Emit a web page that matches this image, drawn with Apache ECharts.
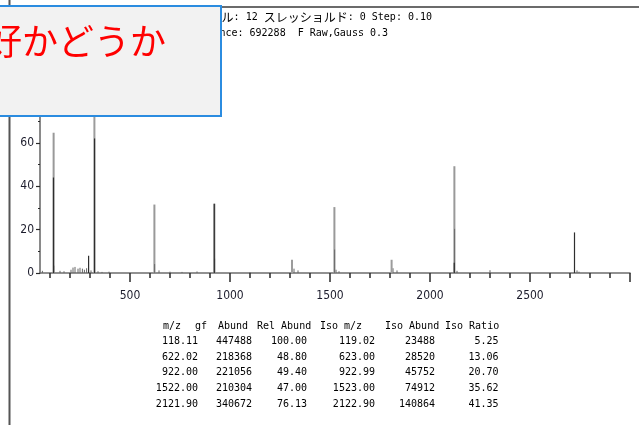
<!DOCTYPE html>
<html>
<head>
<meta charset="utf-8">
<script src="https://cdn.jsdelivr.net/npm/echarts@6/dist/echarts.min.js"></script>
<style>
  html, body { margin: 0; padding: 0; background: #ffffff; }
  #chart { width: 639px; height: 425px; }
</style>
</head>
<body>
<div id="chart"></div>
<script>
// ---- Spectrum data -------------------------------------------------------
// Base peak abundance (shown in the header); intensities are % of it.
const baseAbundance = 692288;

// Peak table
const tableMz       = [118.11, 622.02, 922.00, 1522.00, 2121.90];
const tableAbund    = [447488, 218368, 221056, 210304, 340672];
const tableRelAbund = [100.00, 48.80, 49.40, 47.00, 76.13];
const tableIsoMz    = [119.02, 623.00, 922.99, 1523.00, 2122.90];
const tableIsoAbund = [23488, 28520, 45752, 74912, 140864];
const tableIsoRatio = [5.25, 13.06, 20.70, 35.62, 41.35];

// Other profile peaks: [m/z, relative intensity %]
const profilePeaks = [[322, 100], [1310, 6.1], [1808, 6.1]];
// Centroid (darker) sticks: [m/z, relative intensity %]
const centroidPeaks = [[117.4, 44], [293, 8], [322.8, 62], [921.4, 31.9], [2121.2, 4.7], [2722.5, 18.7]];
// Low-level noise: [m/z, relative intensity %]
const noisePeaks = [
  [62, 1.0], [150, 1.0], [170, 0.8], [205, 1.5], [215, 2.5], [225, 2.8], [240, 2.0],
  [250, 2.4], [262, 2.0], [272, 1.5], [283, 2.2], [305, 1.2], [340, 0.8], [360, 0.5],
  [395, 0.6], [645, 1.2], [700, 0.6], [760, 0.5], [835, 0.7], [1100, 0.4], [1320, 2.0],
  [1340, 1.2], [1530, 1.5], [1545, 0.8], [1815, 2.2], [1835, 1.2], [2135, 1.0],
  [2300, 1.3], [2735, 1.2], [2745, 0.6]
];

// Axis ticks
const xMajorTicks = [500, 1000, 1500, 2000, 2500, 3000];
const xLabels     = [500, 1000, 1500, 2000, 2500];
const xMinorTicks = [];
for (let v = 100; v < 3000; v += 100) xMinorTicks.push(v);

// Header lines
const headerLine1 = [['j', 'ル'], ['a', ': 12 '], ['j', 'スレッショルド'], ['a', ': 0 Step: 0.10']];
const headerLine2 = 'Abundance: 692288  F Raw,Gauss 0.3';
const title = '好かどうか';

// ---- Derived series ---------------------------------------------------------
const pct = a => a / baseAbundance * 100;
const tablePeaks = tableMz.map((m, i) => [m, pct(tableAbund[i])]);
const isoPeaks = tableIsoMz.map((m, i) => [m, pct(tableIsoAbund[i])]);

function stick(color, width) {
  return function (params, api) {
    const x = api.value(0), y = api.value(1);
    const p0 = api.coord([x, 0]);
    const p1 = api.coord([x, y]);
    return {
      type: 'line',
      shape: { x1: p0[0], y1: p0[1], x2: p1[0], y2: p1[1] },
      style: { stroke: color, lineWidth: width }
    };
  };
}

const narrow = "'Liberation Sans Narrow', 'DejaVu Sans Condensed', 'Liberation Sans', sans-serif";
const mono = "'DejaVu Sans Mono', 'Liberation Mono', monospace";
const textColor = '#000000';

// ---- Table graphics --------------------------------------------------------
const tableGraphics = [];
const headerCols = [
  ['m/z', 163], ['gf', 195], ['Abund', 218], ['Rel Abund', 257],
  ['Iso m/z', 320], ['Iso Abund', 385], ['Iso Ratio', 445]
];
headerCols.forEach(([t, x]) => tableGraphics.push({
  type: 'text', x: x, y: 326,
  style: { text: t, font: '10px ' + mono, fill: textColor, textAlign: 'left', textVerticalAlign: 'middle' }
}));
const colRight = [198, 252, 307, 375, 435, 498.5];
tableMz.forEach((m, i) => {
  const cells = [
    m.toFixed(2), String(tableAbund[i]), tableRelAbund[i].toFixed(2),
    tableIsoMz[i].toFixed(2), String(tableIsoAbund[i]), tableIsoRatio[i].toFixed(2)
  ];
  const y = 341.6 + i * 15.6;
  cells.forEach((t, c) => tableGraphics.push({
    type: 'text', x: colRight[c], y: y,
    style: { text: t, font: '10px ' + mono, fill: textColor, textAlign: 'right', textVerticalAlign: 'middle' }
  }));
});

const chart = echarts.init(document.getElementById('chart'), null, { renderer: 'canvas' });

chart.setOption({
  animation: false,
  backgroundColor: '#ffffff',
  grid: { left: 40, right: 9, top: 56, bottom: 152 },
  xAxis: [
    {
      type: 'value', min: 50, max: 3000, position: 'bottom', offset: 0,
      axisLine: { show: true, lineStyle: { color: '#6e6e6e', width: 1.5 } },
      axisTick: { show: true, customValues: xMajorTicks, length: 9, lineStyle: { color: '#2a2a2a', width: 1.5 } },
      axisLabel: {
        show: true, customValues: xLabels, margin: 17, color: '#1c1c2c',
        fontSize: 12, fontFamily: narrow, formatter: v => String(v)
      },
      splitLine: { show: false }
    },
    {
      type: 'value', min: 50, max: 3000, position: 'bottom', offset: 0,
      axisLine: { show: false },
      axisTick: { show: true, customValues: xMinorTicks, length: 5, lineStyle: { color: '#2a2a2a', width: 1.5 } },
      axisLabel: { show: false },
      splitLine: { show: false }
    }
  ],
  yAxis: {
    type: 'value', min: 0, max: 100, interval: 20,
    axisLine: { show: true, lineStyle: { color: '#8a8a8a', width: 2 } },
    axisTick: { show: true, length: 4, lineStyle: { color: '#2a2a2a', width: 1.2 } },
    minorTick: { show: true, splitNumber: 2, length: 2, lineStyle: { color: '#2a2a2a', width: 1.2 } },
    axisLabel: { margin: 6, color: '#1c1c2c', fontSize: 12, fontFamily: narrow },
    splitLine: { show: false }
  },
  series: [
    { type: 'custom', name: 'noise', renderItem: stick('#666666', 1), data: noisePeaks, z: 2 },
    { type: 'custom', name: 'profile', renderItem: stick('#9c9c9c', 2), data: profilePeaks, z: 3 },
    { type: 'custom', name: 'peaks', renderItem: stick('#999999', 2), data: tablePeaks, z: 3 },
    { type: 'custom', name: 'isotope', renderItem: stick('#6a6a6a', 1), data: isoPeaks, z: 4 },
    { type: 'custom', name: 'centroid', renderItem: stick('#2e2e2e', 1.2), data: centroidPeaks, z: 5 }
  ],
  graphic: [
    // window frame
    { type: 'line', shape: { x1: 0, y1: 7, x2: 639, y2: 7 }, style: { stroke: '#6b6b6b', lineWidth: 2 }, z: 10 },
    { type: 'line', shape: { x1: 9.5, y1: 0, x2: 9.5, y2: 425 }, style: { stroke: '#555555', lineWidth: 2 }, z: 10 },
    // header lines
    {
      type: 'text', x: 432, y: 17.5, z: 10,
      style: {
        text: headerLine1.map(([k, t]) => '{' + k + '|' + t + '}').join(''),
        textAlign: 'right', textVerticalAlign: 'middle', fill: textColor,
        rich: {
          j: { font: "12px 'Noto Sans CJK JP'", fill: textColor },
          a: { font: '10px ' + mono, fill: textColor }
        }
      }
    },
    {
      type: 'text', x: 388, y: 33.5, z: 10,
      style: { text: headerLine2, font: '10px ' + mono, fill: textColor, textAlign: 'right', textVerticalAlign: 'middle' }
    },
    // callout box
    {
      type: 'rect', z: 100,
      shape: { x: -2, y: 6, width: 223, height: 110 },
      style: { fill: '#f2f2f2', stroke: '#2b8ce0', lineWidth: 2 }
    },
    {
      type: 'text', x: -14, y: 41, z: 101,
      style: { text: title, font: "36px 'Noto Sans CJK JP'", fill: '#ff0000', textAlign: 'left', textVerticalAlign: 'middle' }
    }
  ].concat(tableGraphics)
});
</script>
</body>
</html>
